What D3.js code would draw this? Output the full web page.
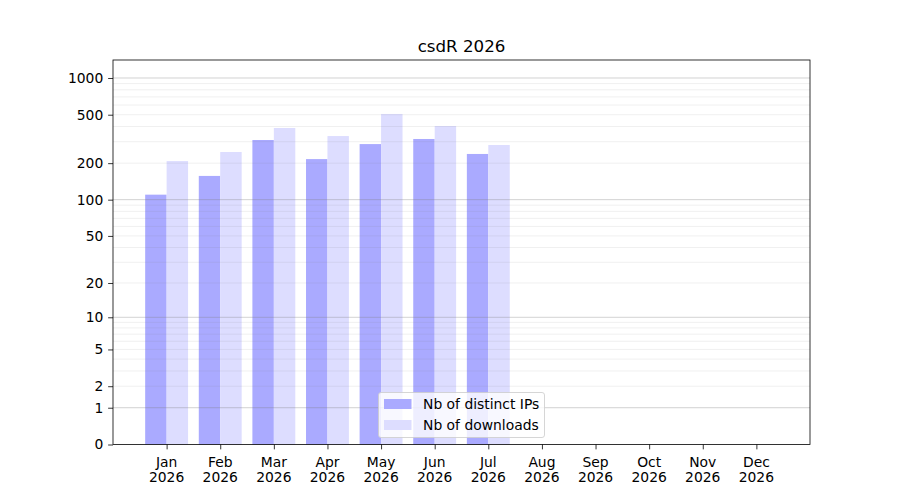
<!DOCTYPE html>
<html>
<head>
<meta charset="utf-8">
<script src="https://cdn.jsdelivr.net/npm/d3@7"></script>
<style>
  body { margin: 0; background: #fff; }
  svg { font-family: "DejaVu Sans", sans-serif; }
</style>
</head>
<body>
<svg id="chart" width="900" height="500"></svg>
<script>
const title = "csdR 2026";
const months = ["Jan","Feb","Mar","Apr","May","Jun","Jul","Aug","Sep","Oct","Nov","Dec"];
const yearLabel = "2026";
const distinctIPs = [110, 157, 310, 216, 287, 316, 238];
const downloads = [208, 247, 389, 334, 507, 404, 282];
const yTicks = [0, 1, 2, 5, 10, 20, 50, 100, 200, 500, 1000];
const seriesNames = ["Nb of distinct IPs", "Nb of downloads"];
const seriesColors = ["#aaaaff", "#ddddff"];

const svg = d3.select("#chart");
const L = 113, R = 810, T = 60, B = 444.5;
const FS = "13.89px";

const x = d3.scaleLinear().domain([-1, 12]).range([L, R]);
const y = d3.scaleSymlog().constant(1).domain([0, 1404]).range([B, T]);
const bw = 0.4;

// bars
const g = svg.append("g");
g.selectAll("rect.ip").data(distinctIPs).enter().append("rect")
  .attr("x", (d, i) => x(i - bw))
  .attr("width", x(bw) - x(0))
  .attr("y", d => y(d))
  .attr("height", d => B - y(d))
  .attr("fill", seriesColors[0]);
g.selectAll("rect.dl").data(downloads).enter().append("rect")
  .attr("x", (d, i) => x(i))
  .attr("width", x(bw) - x(0))
  .attr("y", d => y(d))
  .attr("height", d => B - y(d))
  .attr("fill", seriesColors[1]);

// grid
const minor = [];
[1, 10, 100].forEach(dec => { for (let k = 2; k <= 9; k++) minor.push(dec * k); });
const major = [1, 10, 100, 1000];
svg.append("g").selectAll("line").data(minor).enter().append("line")
  .attr("x1", L).attr("x2", R)
  .attr("y1", d => y(d)).attr("y2", d => y(d))
  .attr("stroke", "#808080").attr("stroke-opacity", 0.15).attr("stroke-width", 0.8);
svg.append("g").selectAll("line").data(major).enter().append("line")
  .attr("x1", L).attr("x2", R)
  .attr("y1", d => y(d)).attr("y2", d => y(d))
  .attr("stroke", "#808080").attr("stroke-opacity", 0.45).attr("stroke-width", 0.8);

// axes
const yAxis = d3.axisLeft(y).tickValues(yTicks).tickFormat(d3.format("d")).tickSize(4.86).tickPadding(4.86);
const ya = svg.append("g").attr("transform", `translate(${L},0)`).call(yAxis);
ya.select(".domain").remove();
ya.selectAll("text").attr("font-size", FS).attr("fill", "#000").attr("font-family", "DejaVu Sans");
ya.selectAll("line").attr("stroke", "#000").attr("stroke-width", 0.8);

const xAxis = d3.axisBottom(x).tickValues(d3.range(12)).tickFormat("").tickSize(4.86);
const xa = svg.append("g").attr("transform", `translate(0,${B})`).call(xAxis);
xa.select(".domain").remove();
xa.selectAll("line").attr("stroke", "#000").attr("stroke-width", 0.8);
const xl = svg.append("g").selectAll("text").data(months).enter().append("text")
  .attr("text-anchor", "middle").attr("font-size", FS).attr("fill", "#000");
xl.append("tspan").attr("x", (d, i) => x(i)).attr("y", 466.5).text(d => d);
xl.append("tspan").attr("x", (d, i) => x(i)).attr("y", 482).text(yearLabel);

// frame
svg.append("rect").attr("x", L).attr("y", T).attr("width", R - L).attr("height", B - T)
  .attr("fill", "none").attr("stroke", "#000").attr("stroke-width", 0.8);

// title
svg.append("text").attr("x", (L + R) / 2).attr("y", 51.5).attr("text-anchor", "middle")
  .attr("font-size", "16.67px").attr("fill", "#000").text(title);

// legend
const lg = svg.append("g");
lg.append("rect").attr("x", 378.5).attr("y", 392.5).attr("width", 166).attr("height", 45)
  .attr("rx", 2.5).attr("fill", "#fff").attr("fill-opacity", 0.8)
  .attr("stroke", "#cccccc").attr("stroke-width", 0.8);
seriesNames.forEach((name, i) => {
  lg.append("rect").attr("x", 384).attr("y", 399 + i * 21).attr("width", 27.5).attr("height", 10)
    .attr("fill", seriesColors[i]);
  lg.append("text").attr("x", 423).attr("y", 409 + i * 21).attr("font-size", FS)
    .attr("fill", "#000").text(name);
});
</script>
</body>
</html>
